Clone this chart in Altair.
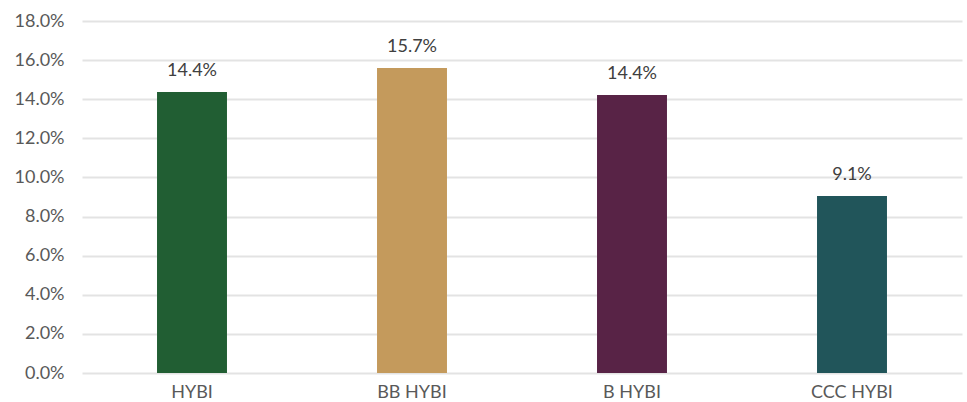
import altair as alt
import pandas as pd

categories = ["HYBI", "BB HYBI", "B HYBI", "CCC HYBI"]
values = [0.1437, 0.1560, 0.1422, 0.0905]
labels = ["14.4%", "15.7%", "14.4%", "9.1%"]
colors = ["#215e33", "#c49a5c", "#582346", "#21555a"]
y_ticks = [0.0, 0.02, 0.04, 0.06, 0.08, 0.10, 0.12, 0.14, 0.16, 0.18]

df = pd.DataFrame({"cat": categories, "val": values, "label": labels})

x = alt.X("cat:N", sort=categories, title=None,
          scale=alt.Scale(paddingInner=0.682, paddingOuter=0.341),
          axis=alt.Axis(labelAngle=0, domain=False, ticks=False, labelFont="Lato",
                        labelFontSize=18, labelColor="#595959", labelPadding=10))
y = alt.Y("val:Q", title=None,
          scale=alt.Scale(domain=[0, 0.18], nice=False),
          axis=alt.Axis(format=".1%", values=y_ticks, domain=False, ticks=False, labelOverlap=False,
                        labelFont="Lato", labelFontSize=18, labelColor="#595959", labelPadding=18,
                        gridColor="#e3e3e3", gridWidth=2))

bars = alt.Chart(df).mark_bar().encode(
    x=x, y=y,
    color=alt.Color("cat:N", sort=categories, scale=alt.Scale(domain=categories, range=colors), legend=None),
)
text = alt.Chart(df).mark_text(baseline="alphabetic", dy=-16, font="Lato", fontSize=18, color="#404040").encode(
    x=x, y=y, text="label:N"
)

chart = (bars + text).properties(
    width=880, height=352,
    autosize=alt.AutoSizeParams(type="none"),
    padding={"left": 82, "top": 21, "right": 5, "bottom": 29},
).configure_view(stroke=None)

chart.save("out.html", embed_options={"renderer": "svg", "actions": False})
